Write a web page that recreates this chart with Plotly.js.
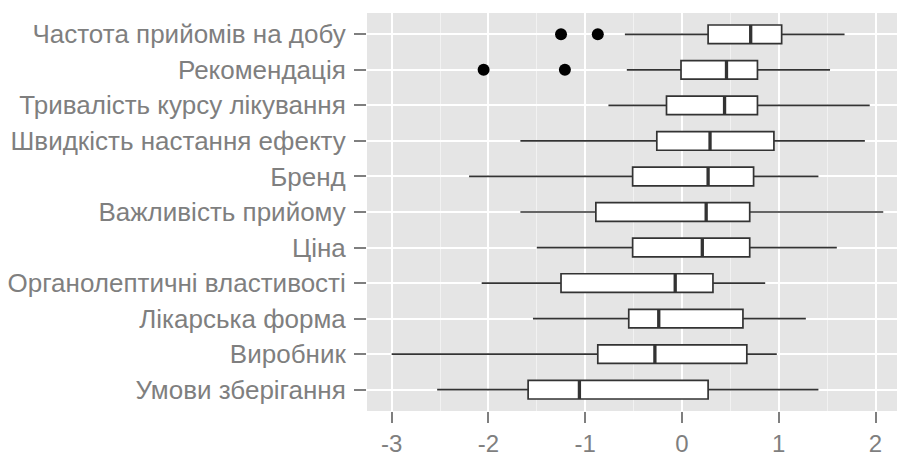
<!DOCTYPE html>
<html>
<head>
<meta charset="utf-8">
<script src="https://cdn.plot.ly/plotly-3.0.1.min.js"></script>
<style>html,body{margin:0;padding:0;background:#fff;}#chart{width:897px;height:457px;}</style>
</head>
<body>
<div id="chart"></div>
<script>
// Categories, listed top to bottom
const categories = [
  "Частота прийомів на добу",
  "Рекомендація",
  "Тривалість курсу лікування",
  "Швидкість настання ефекту",
  "Бренд",
  "Важливість прийому",
  "Ціна",
  "Органолептичні властивості",
  "Лікарська форма",
  "Виробник",
  "Умови зберігання"
];
const lowerWhisker = [-0.59, -0.57, -0.76, -1.67, -2.20, -1.67, -1.50, -2.07, -1.54, -3.00, -2.53];
const q1Values     = [ 0.27, -0.01, -0.16, -0.26, -0.51, -0.89, -0.51, -1.25, -0.55, -0.87, -1.59];
const medianValues = [ 0.71,  0.46,  0.44,  0.29,  0.27,  0.25,  0.21, -0.07, -0.24, -0.28, -1.06];
const q3Values     = [ 1.03,  0.78,  0.78,  0.95,  0.74,  0.70,  0.70,  0.32,  0.63,  0.67,  0.27];
const upperWhisker = [ 1.68,  1.53,  1.94,  1.89,  1.41,  2.08,  1.60,  0.86,  1.28,  0.98,  1.41];
const outlierCategory = ["Частота прийомів на добу", "Частота прийомів на добу", "Рекомендація", "Рекомендація"];
const outlierValues   = [-1.25, -0.87, -2.05, -1.21];
const xTickValues = [-3, -2, -1, 0, 1, 2];
const xTickLabels = ["-3", "-2", "-1", "0", "1", "2"];

const boxTrace = {
  type: "box",
  orientation: "h",
  y: categories,
  q1: q1Values,
  median: medianValues,
  q3: q3Values,
  lowerfence: lowerWhisker,
  upperfence: upperWhisker,
  fillcolor: "#FFFFFF",
  line: {color: "#333333", width: 1.7},
  whiskerwidth: 0,
  boxpoints: false,
  hoverinfo: "skip",
  showlegend: false
};
const medianTrace = {
  type: "box",
  orientation: "h",
  y: categories,
  q1: medianValues,
  median: medianValues,
  q3: medianValues,
  lowerfence: medianValues,
  upperfence: medianValues,
  fillcolor: "rgba(0,0,0,0)",
  line: {color: "#333333", width: 3.3},
  whiskerwidth: 0,
  boxpoints: false,
  hoverinfo: "skip",
  showlegend: false
};
const outlierTrace = {
  type: "scatter",
  mode: "markers",
  x: outlierValues,
  y: outlierCategory,
  marker: {color: "#000000", size: 12},
  hoverinfo: "skip",
  showlegend: false
};

const yTickFont = {family: "Liberation Sans, Arial, sans-serif", size: 26, color: "#7F7F7F"};
const xTickFont = {family: "Liberation Sans, Arial, sans-serif", size: 24, color: "#7F7F7F"};
const layout = {
  width: 897,
  height: 457,
  margin: {l: 367, r: 0, t: 13, b: 46},
  paper_bgcolor: "#FFFFFF",
  plot_bgcolor: "#E5E5E5",
  boxgap: 0.25,
  boxmode: "overlay",
  xaxis: {
    range: [-3.255, 2.222],
    tickvals: xTickValues,
    ticktext: xTickLabels,
    showgrid: true,
    gridcolor: "#FFFFFF",
    gridwidth: 2,
    zeroline: false,
    showline: false,
    ticks: "outside",
    ticklen: 11,
    tickwidth: 2,
    tickcolor: "#7F7F7F",
    tickfont: xTickFont,
    ticklabelstandoff: 0,
    minor: {dtick: 0.5, tick0: 0, showgrid: true, gridcolor: "#F2F2F2", gridwidth: 1, ticks: ""},
    fixedrange: true
  },
  yaxis: {
    type: "category",
    categoryorder: "array",
    categoryarray: categories,
    range: [10.6, -0.6],
    showgrid: true,
    gridcolor: "#FFFFFF",
    gridwidth: 2,
    zeroline: false,
    showline: false,
    ticks: "outside",
    ticklen: 12,
    tickwidth: 2,
    tickcolor: "#7F7F7F",
    tickfont: yTickFont,
    ticklabelstandoff: 3,
    fixedrange: true
  }
};
Plotly.newPlot("chart", [boxTrace, medianTrace, outlierTrace], layout, {displayModeBar: false, staticPlot: true});
</script>
</body>
</html>
